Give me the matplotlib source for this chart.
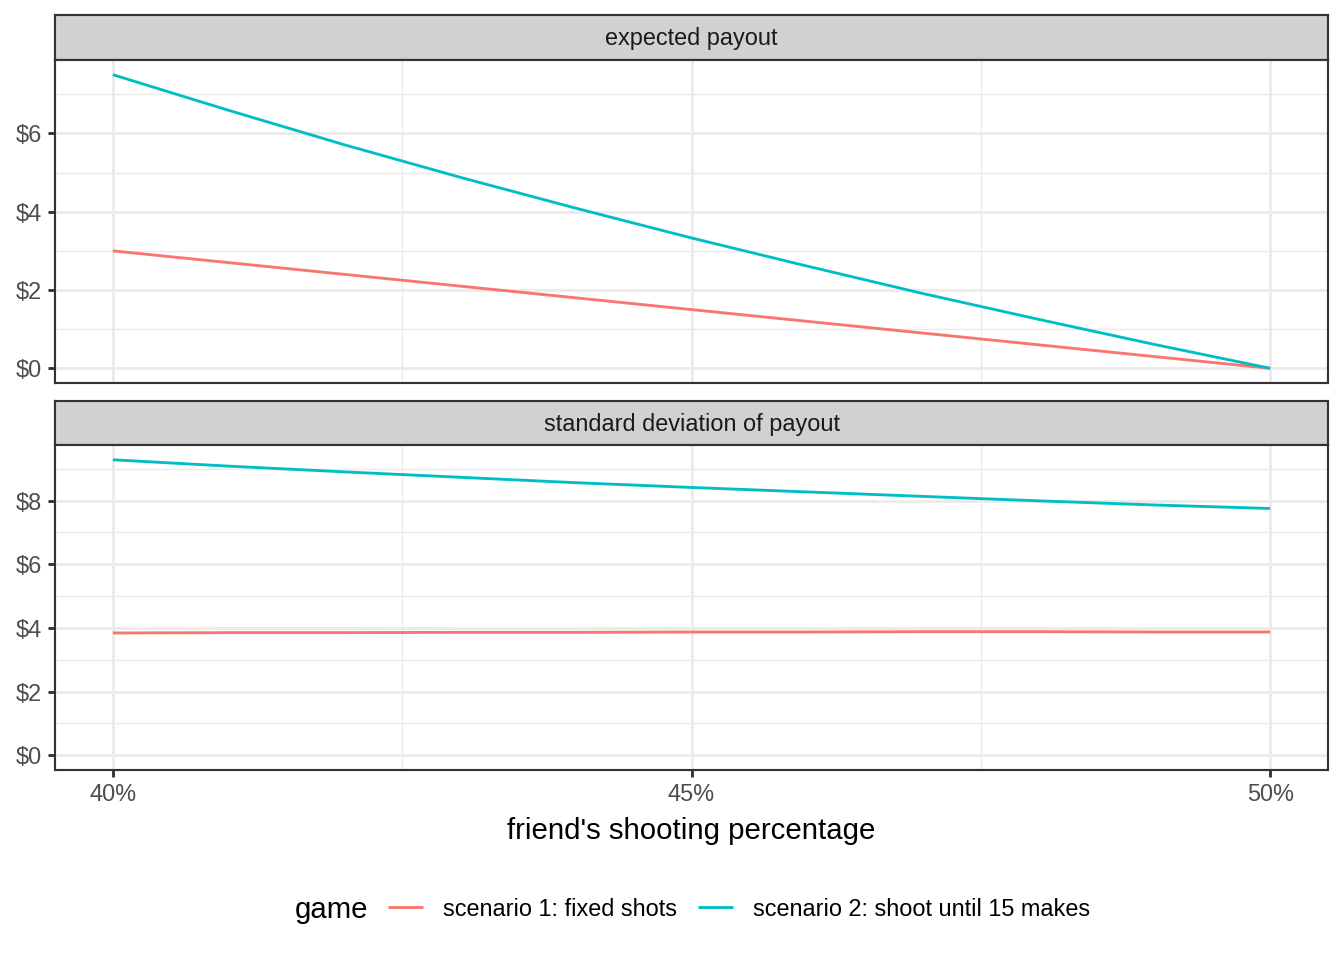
import numpy as np
import matplotlib
matplotlib.use("Agg")
from matplotlib import pyplot as plt
from matplotlib.ticker import FixedLocator, FuncFormatter

plt.rcParams["font.family"] = ["Liberation Sans", "DejaVu Sans"]

# friend's shooting percentage
pct = [0.40, 0.41, 0.42, 0.43, 0.44, 0.45, 0.46, 0.47, 0.48, 0.49, 0.50]

# expected payout ($)
exp_fixed = [3.0, 2.7, 2.4, 2.1, 1.8, 1.5, 1.2, 0.9, 0.6, 0.3, 0.0]
exp_until = [7.5, 6.59, 5.71, 4.88, 4.09, 3.33, 2.61, 1.91, 1.25, 0.61, 0.0]

# standard deviation of payout ($)
sd_fixed = [3.84, 3.85, 3.85, 3.86, 3.86, 3.87, 3.87, 3.88, 3.88, 3.87, 3.87]
sd_until = [9.28, 9.08, 8.90, 8.73, 8.56, 8.41, 8.27, 8.13, 7.99, 7.86, 7.75]

series_names = ["scenario 1: fixed shots", "scenario 2: shoot until 15 makes"]
series_colors = ["#F8766D", "#00BFC4"]
facets = ["expected payout", "standard deviation of payout"]

x_major = [0.40, 0.45, 0.50]
x_minor = [0.425, 0.475]

W, H = 1344, 960
LW = 1.07      # data lines / major grid
BORDER = 0.8   # panel and strip borders


def frac(left, top, right, bottom):
    return [left / W, 1 - bottom / H, (right - left) / W, (bottom - top) / H]


def expanded(lo, hi, mult=0.05):
    pad = (hi - lo) * mult
    return lo - pad, hi + pad


fig = plt.figure(figsize=(7, 5), dpi=192)

panels = [
    (frac(55, 15, 1328, 60), frac(55, 60, 1328, 383), exp_fixed, exp_until),
    (frac(55, 401, 1328, 445), frac(55, 445, 1328, 770), sd_fixed, sd_until),
]

for i, (strip_box, panel_box, y1, y2) in enumerate(panels):
    # facet strip
    sax = fig.add_axes(strip_box)
    sax.set_facecolor("#D1D1D1")
    sax.set_xticks([])
    sax.set_yticks([])
    for sp in sax.spines.values():
        sp.set_color("#333333")
        sp.set_linewidth(BORDER)
    sax.text(0.5, 0.47, facets[i], ha="center", va="center",
             fontsize=8.8, color="#1A1A1A", transform=sax.transAxes)

    ax = fig.add_axes(panel_box)
    l1, = ax.plot(pct, y1, color=series_colors[0], lw=LW, label=series_names[0],
                  solid_capstyle="butt")
    l2, = ax.plot(pct, y2, color=series_colors[1], lw=LW, label=series_names[1],
                  solid_capstyle="butt")

    ax.set_xlim(*expanded(min(pct), max(pct)))
    ymax = max(max(y1), max(y2))
    ax.set_ylim(*expanded(0, ymax))

    y_major = list(range(0, int(ymax) + 1, 2))
    y_minor = [v + 1 for v in y_major]
    ax.yaxis.set_major_locator(FixedLocator(y_major))
    ax.yaxis.set_minor_locator(FixedLocator(y_minor))
    ax.yaxis.set_major_formatter(FuncFormatter(lambda v, p: f"${v:.0f}"))
    ax.xaxis.set_major_locator(FixedLocator(x_major))
    ax.xaxis.set_minor_locator(FixedLocator(x_minor))
    ax.xaxis.set_major_formatter(FuncFormatter(lambda v, p: f"{v * 100:.0f}%"))

    ax.grid(which="major", color="#EBEBEB", lw=LW)
    ax.grid(which="minor", color="#EBEBEB", lw=LW / 2)
    ax.set_axisbelow(True)
    for sp in ax.spines.values():
        sp.set_color("#333333")
        sp.set_linewidth(BORDER)

    ax.tick_params(which="minor", length=0)
    ax.tick_params(axis="y", which="major", length=2.75, width=LW, color="#333333",
                   labelsize=8.8, labelcolor="#4D4D4D", pad=2.2)
    if i == 0:
        ax.tick_params(axis="x", which="both", length=0, labelbottom=False)
    else:
        ax.tick_params(axis="x", which="major", length=2.75, width=LW, color="#333333",
                       labelsize=8.8, labelcolor="#4D4D4D", pad=2.2)
        ax.set_xlabel("friend's shooting percentage", fontsize=11, color="black",
                      labelpad=4)

fig.text(295 / W, 1 - 910 / H, "game", fontsize=11, ha="left", va="center")
fig.legend(handles=[l1, l2], labels=series_names, ncol=2, loc="center left",
           bbox_to_anchor=(388 / W, 1 - 909 / H), frameon=False, fontsize=8.8,
           handlelength=1.5, handletextpad=0.85, columnspacing=0.9,
           borderaxespad=0, borderpad=0)

fig.savefig("out.png", dpi=192, facecolor="white")
